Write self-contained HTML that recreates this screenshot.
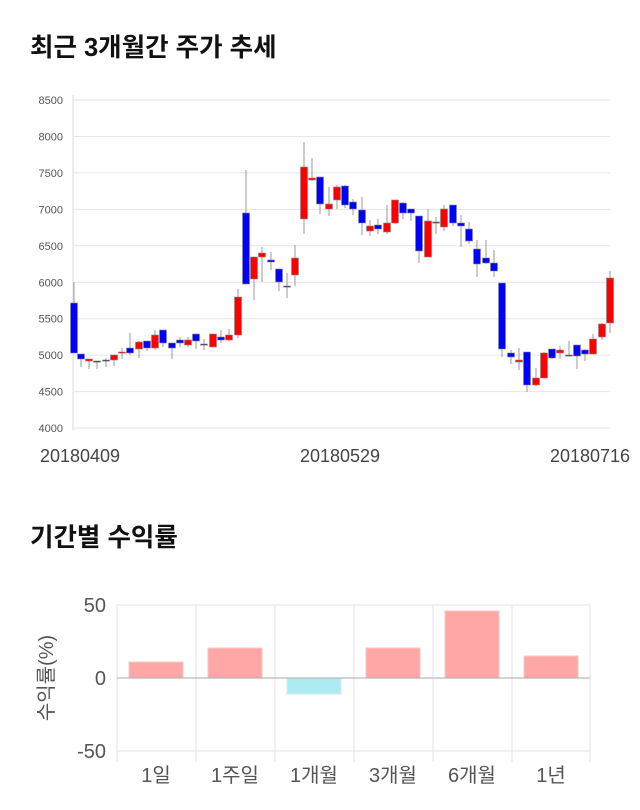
<!DOCTYPE html>
<html><head><meta charset="utf-8"><style>
html,body{margin:0;padding:0;background:#fff;width:640px;height:810px;overflow:hidden}
svg{display:block}
</style></head><body>
<svg id="s" width="640" height="810" xmlns="http://www.w3.org/2000/svg" font-family="'Liberation Sans','Noto Sans CJK KR',sans-serif">
<text x="30" y="56" font-size="25.5" font-weight="bold" fill="#111">최근 3개월간 주가 추세</text>
<text x="30" y="546" font-size="25.5" font-weight="bold" fill="#111">기간별 수익률</text>
<g id="grid"></g>
<line x1="73" y1="95" x2="73" y2="430" stroke="#ddd"/>
<g id="candles"></g>
<g font-size="18" fill="#444" text-anchor="middle">
<text x="80" y="462">20180409</text>
<text x="340" y="462">20180529</text>
<text x="590" y="462">20180716</text>
</g>
<g stroke="#e3e3e3">
<line x1="117" y1="605" x2="590" y2="605"/>
<line x1="117" y1="751" x2="590" y2="751"/>
<line x1="117" y1="605" x2="117" y2="762"/>
<line x1="196" y1="605" x2="196" y2="762"/>
<line x1="275" y1="605" x2="275" y2="762"/>
<line x1="354" y1="605" x2="354" y2="762"/>
<line x1="433" y1="605" x2="433" y2="762"/>
<line x1="512" y1="605" x2="512" y2="762"/>
<line x1="590" y1="605" x2="590" y2="762"/>
</g>
<g fill="#ffa6a6" stroke="#f3c8c8">
<rect x="129" y="662" width="54" height="16"/>
<rect x="208" y="648" width="54" height="30"/>
<rect x="366" y="648" width="54" height="30"/>
<rect x="445" y="611" width="54" height="67"/>
<rect x="524" y="656" width="54" height="22"/>
</g>
<rect x="287" y="678" width="54" height="16" fill="#aeeaf2" stroke="#cdeff4"/>
<line x1="117" y1="678" x2="590" y2="678" stroke="#aaa"/>
<g font-size="20" fill="#555" text-anchor="end">
<text x="106" y="612">50</text>
<text x="106" y="685">0</text>
<text x="106" y="758">-50</text>
</g>
<text transform="translate(53,678) rotate(-90)" font-size="20" fill="#555" text-anchor="middle">수익률(%)</text>
<g font-size="20" fill="#555" text-anchor="middle">
<text x="156" y="782">1일</text>
<text x="235" y="782">1주일</text>
<text x="314" y="782">1개월</text>
<text x="393" y="782">3개월</text>
<text x="472" y="782">6개월</text>
<text x="551" y="782">1년</text>
</g>
</svg>
<script>
var ns="http://www.w3.org/2000/svg";
function el(p,t,a){var e=document.createElementNS(ns,t);for(var k in a)e.setAttribute(k,a[k]);p.appendChild(e);return e;}
var g=document.getElementById('grid');
var labs=[8500,8000,7500,7000,6500,6000,5500,5000,4500,4000];
for(var i=0;i<10;i++){var y=100+i*36.45;
el(g,'line',{x1:73,y1:y,x2:610,y2:y,stroke:'#e6e6e6'});
var t=el(g,'text',{x:63,y:y+4,'font-size':11,fill:'#555','text-anchor':'end'});t.textContent=labs[i];}
var C=[
[74,303,353,282,353,'b'],[81,354,359,354,367,'b'],[89,359,361,359,369,'r'],[97,361,362,361,369,'b'],
[106,360,361,358,367,'k'],[114,355,360,355,366,'r'],[122,352,353,348,359,'r'],[130,348,353,333,355,'b'],
[139,342,349,341,358,'r'],[147,341,348,341,351,'b'],[155,335,348,330,350,'r'],[163,330,343,330,347,'b'],
[172,343,348,343,359,'b'],[180,340,343,337,347,'b'],[188,340,345,337,347,'r'],[196,334,341,334,349,'b'],
[204,344,345,339,350,'k'],[213,334,347,334,347,'r'],[221,337,340,330,343,'b'],[229,335,340,329,341,'r'],
[238,297,335,289,338,'r'],[246,213,284,170,284,'b'],[254,257,279,257,300,'r'],[262,253,257,247,282,'r'],
[271,260,262,252,270,'b'],[279,269,282,269,291,'b'],[287,286,287,273,298,'k'],[295,258,275,245,286,'r'],
[304,167,219,142,234,'r'],[312,178,180,158,181,'r'],[320,177,204,177,214,'b'],[329,204,209,187,216,'r'],
[337,187,200,185,209,'r'],[345,186,205,185,208,'b'],[353,202,209,199,215,'b'],[362,210,223,197,235,'b'],
[370,226,231,220,236,'r'],[378,225,229,219,234,'b'],[387,223,232,205,234,'r'],[395,200,223,200,224,'r'],
[403,203,213,202,219,'b'],[411,209,213,209,221,'b'],[419,216,251,216,263,'b'],[428,221,257,209,257,'r'],
[436,222,223,217,234,'k'],[444,209,227,205,231,'r'],[453,205,223,205,226,'b'],[461,223,226,215,247,'b'],
[469,229,241,222,244,'b'],[477,249,264,240,277,'b'],[486,258,263,240,264,'b'],[494,263,271,250,277,'b'],
[502,283,349,283,357,'b'],[511,353,357,350,364,'b'],[519,360,362,348,370,'r'],[527,352,385,352,392,'b'],
[536,378,385,368,386,'r'],[544,353,378,352,378,'r'],[552,349,358,349,359,'b'],[560,350,353,346,359,'r'],
[569,355,356,341,356,'k'],[577,345,356,345,369,'b'],[585,350,354,349,361,'b'],[593,339,354,334,354,'r'],
[602,324,337,323,340,'r'],[610,278,323,271,333,'r']];
var cg=document.getElementById('candles');
C.forEach(function(c){
el(cg,'line',{x1:c[0],y1:c[3],x2:c[0],y2:c[4],stroke:'#999','stroke-width':1});
var col=c[5]=='r'?'#ff0000':(c[5]=='b'?'#0000ff':'#333366');
var h=Math.max(c[2]-c[1],1.2);
el(cg,'rect',{x:c[0]-3.5,y:c[1],width:7,height:h,fill:col,stroke:'#888','stroke-width':0.6});
});
</script>
</body></html>
